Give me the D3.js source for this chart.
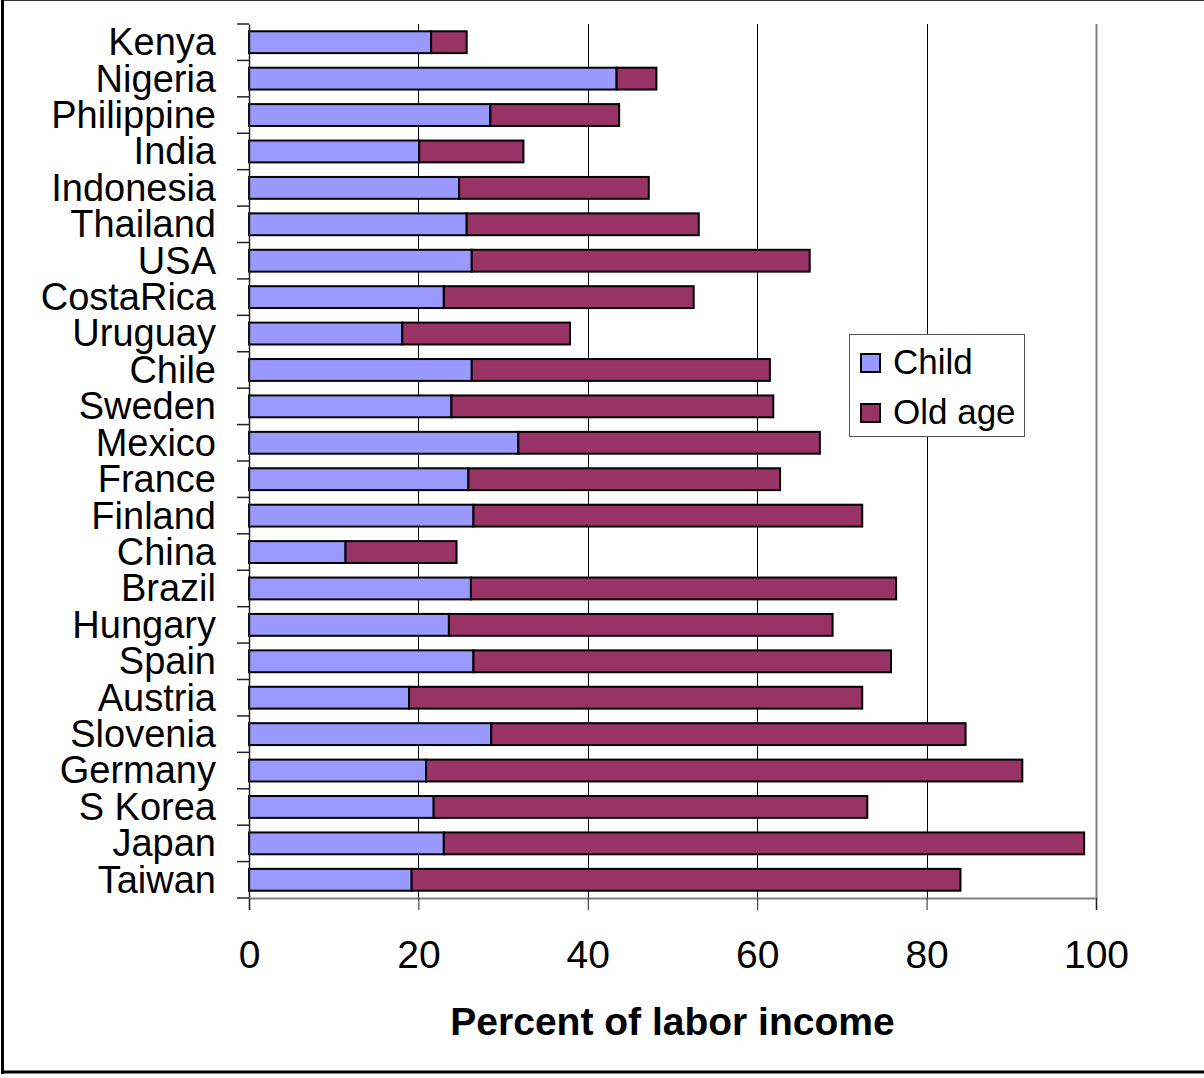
<!DOCTYPE html>
<html>
<head>
<meta charset="utf-8">
<script src="https://cdn.jsdelivr.net/npm/d3@7"></script>
<style>
  html, body { margin: 0; padding: 0; background: #fff; }
  svg { display: block; }
  text { font-family: Arial, "Liberation Sans", sans-serif; fill: #000; }
</style>
</head>
<body>
<svg id="chart" width="1204" height="1078"></svg>
<script>
// Countries, top to bottom
const countries = ["Kenya", "Nigeria", "Philippine", "India", "Indonesia", "Thailand", "USA",
  "CostaRica", "Uruguay", "Chile", "Sweden", "Mexico", "France", "Finland", "China", "Brazil",
  "Hungary", "Spain", "Austria", "Slovenia", "Germany", "S Korea", "Japan", "Taiwan"];

// Reallocations to children, percent of labor income
const childValues = [21.5, 43.4, 28.5, 20.1, 24.8, 25.7, 26.3, 23.0, 18.1, 26.3, 23.9, 31.8,
  25.9, 26.5, 11.4, 26.2, 23.6, 26.5, 18.9, 28.6, 20.9, 21.8, 23.0, 19.2];

// Reallocations to the elderly, percent of labor income
const oldAgeValues = [4.2, 4.7, 15.2, 12.3, 22.4, 27.4, 39.9, 29.5, 19.8, 35.2, 38.0, 35.6,
  36.8, 45.9, 13.1, 50.2, 45.3, 49.3, 53.5, 56.0, 70.4, 51.2, 75.6, 64.8];

const seriesNames = ["Child", "Old age"];
const seriesColors = ["#9999FF", "#993366"];
const xTicks = [0, 20, 40, 60, 80, 100];
const xTitle = "Percent of labor income";

const svg = d3.select("#chart");

// Outer frame
svg.append("rect").attr("x", 2).attr("y", 0.5).attr("width", 1220).attr("height", 1071.5)
  .attr("fill", "none").attr("stroke", "#333").attr("stroke-width", 1);
svg.append("line").attr("x1", 2.5).attr("x2", 2.5).attr("y1", 0).attr("y2", 1074)
  .attr("stroke", "#000").attr("stroke-width", 3);
svg.append("line").attr("x1", 1).attr("x2", 1204).attr("y1", 1072).attr("y2", 1072)
  .attr("stroke", "#000").attr("stroke-width", 3);

const plot = { left: 249, right: 1096, top: 24, bottom: 898 };

const x = d3.scaleLinear().domain([0, 100]).range([plot.left, plot.right]);
const y = d3.scaleBand().domain(countries).range([plot.top, plot.bottom])
  .paddingInner(0.4).paddingOuter(0.2);

// Vertical gridlines
svg.append("g").selectAll("line").data(xTicks.filter(t => t > 0)).join("line")
  .attr("x1", d => Math.round(x(d)) + 0.5).attr("x2", d => Math.round(x(d)) + 0.5)
  .attr("y1", plot.top).attr("y2", plot.bottom)
  .attr("stroke", d => d === 100 ? "#808080" : "#000")
  .attr("stroke-width", d => d === 100 ? 2 : 1);

// Stacked bars
const rows = countries.map((c, i) => ({ country: c, child: childValues[i], old: oldAgeValues[i] }));
const stack = d3.stack().keys(["child", "old"])(rows);

svg.append("g").selectAll("g").data(stack).join("g")
  .attr("fill", (d, i) => seriesColors[i])
  .selectAll("rect").data(d => d).join("rect")
  .attr("x", d => x(d[0]))
  .attr("y", d => y(d.data.country))
  .attr("width", d => x(d[1]) - x(d[0]))
  .attr("height", y.bandwidth())
  .attr("stroke", "#000").attr("stroke-width", 2);

// Category axis
const yAxis = d3.axisLeft(y).tickSize(0).tickPadding(33);
const yg = svg.append("g").attr("transform", `translate(${plot.left},0)`).call(yAxis);
yg.select(".domain").attr("stroke", "#222").attr("stroke-width", 1.5);
yg.selectAll("text").attr("font-size", 38).attr("font-family", "Arial, 'Liberation Sans', sans-serif")
  .attr("dy", "0.34em");

// Tick marks between categories
const bounds = d3.range(countries.length + 1).map(i => plot.top + i * y.step());
svg.append("g").selectAll("line").data(bounds).join("line")
  .attr("x1", plot.left - 12).attr("x2", plot.left)
  .attr("y1", d => d).attr("y2", d => d)
  .attr("stroke", "#222").attr("stroke-width", 1.5);

// Value axis
const xAxis = d3.axisBottom(x).tickValues(xTicks).tickSize(12).tickPadding(30);
const xg = svg.append("g").attr("transform", `translate(0,${plot.bottom})`).call(xAxis);
xg.select(".domain").attr("stroke", "#808080").attr("stroke-width", 2);
xg.selectAll(".tick line").attr("stroke", "#222");
xg.selectAll("text").attr("font-size", 39).attr("font-family", "Arial, 'Liberation Sans', sans-serif");

// Axis title
svg.append("text").attr("x", (plot.left + plot.right) / 2).attr("y", 1035)
  .attr("text-anchor", "middle").attr("font-size", 39).attr("font-weight", "bold")
  .text(xTitle);

// Legend
const lg = svg.append("g").attr("transform", "translate(849,334)");
lg.append("rect").attr("x", 0.5).attr("y", 0.5).attr("width", 175).attr("height", 102)
  .attr("fill", "#fff").attr("stroke", "#555").attr("stroke-width", 1);
seriesNames.forEach((name, i) => {
  const row = lg.append("g").attr("transform", `translate(0,${i * 50})`);
  row.append("rect").attr("x", 12).attr("y", 20).attr("width", 19).attr("height", 18)
    .attr("fill", seriesColors[i]).attr("stroke", "#000").attr("stroke-width", 2);
  row.append("text").attr("x", 44).attr("y", 40).attr("font-size", 35).text(name);
});
</script>
</body>
</html>
